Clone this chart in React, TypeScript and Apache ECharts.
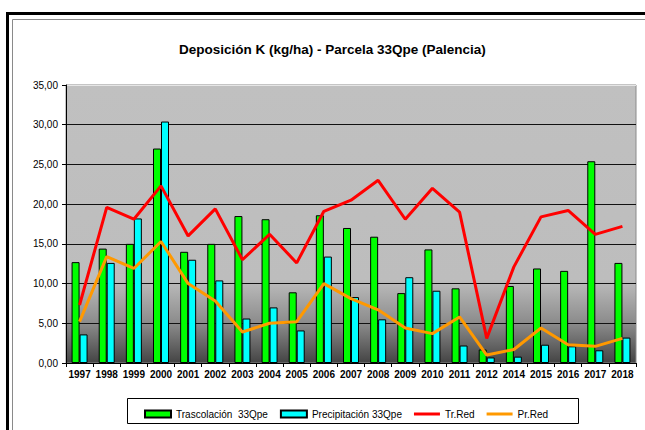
import React, { useEffect, useRef } from "react";
import * as echarts from "echarts";

const years = ["1997","1998","1999","2000","2001","2002","2003","2004","2005","2006","2007","2008","2009","2010","2011","2012","2014","2015","2016","2017","2018"];
const trascolacion = [12.7,14.4,15.0,27.0,14.0,15.0,18.5,18.1,8.9,18.6,17.0,15.9,8.8,14.3,9.4,1.7,9.7,11.9,11.6,25.4,12.6];
const precipitacion = [3.6,12.6,18.2,30.4,13.0,10.4,5.6,7.0,4.1,13.4,8.3,5.5,10.8,9.1,2.2,0.7,0.8,2.3,2.1,1.6,3.2];
const trRed = [7.3,19.6,18.1,22.3,16.0,19.4,13.0,16.2,12.6,19.1,20.5,23.0,18.1,22.0,19.0,3.1,12.1,18.4,19.2,16.2,17.2];
const prRed = [5.2,13.4,11.9,15.3,10.0,7.8,3.9,5.0,5.2,10.0,8.1,6.7,4.4,3.7,5.8,1.0,1.7,4.4,2.3,2.1,3.1];
const yTicks = [0, 5, 10, 15, 20, 25, 30, 35];

const FONT = "'Liberation Sans', Arial, sans-serif";
const LINE_ICON = "path://M0,0 L26,0 L26,3 L0,3 Z";

export default function App() {
  const ref = useRef<HTMLDivElement>(null);
  useEffect(() => {
    if (!ref.current) return;
    const chart = echarts.init(ref.current, null, { renderer: "svg" });
    chart.setOption({
      animation: false,
      backgroundColor: "#ffffff",
      textStyle: { fontFamily: FONT },
      title: {
        text: "Deposición K (kg/ha) - Parcela 33Qpe (Palencia)",
        left: 174,
        top: 37,
        textStyle: { fontFamily: FONT, fontSize: 13.5, fontWeight: "bold", color: "#000" },
      },
      graphic: [
        { type: "rect", shape: { x: 7.5, y: 13.5, width: 700, height: 500 }, style: { fill: "none", stroke: "#000", lineWidth: 3 }, z: 100 },
        { type: "rect", shape: { x: 12.5, y: 19.5, width: 700, height: 500 }, style: { fill: "none", stroke: "#8a8a8a", lineWidth: 1 }, z: 100 },
        { type: "rect", shape: { x: 127.5, y: 398.5, width: 451, height: 25 }, style: { fill: "none", stroke: "#000", lineWidth: 1 }, z: 100 },
      ],
      legend: {
        left: 139,
        top: 404,
        itemWidth: 26,
        itemHeight: 7,
        itemGap: 12,
        textStyle: { fontFamily: FONT, fontSize: 10, color: "#000" },
        data: [
          { name: "Trascolación  33Qpe", icon: "rect" },
          { name: "Precipitación 33Qpe", icon: "rect" },
          { name: "Tr.Red", icon: LINE_ICON, itemStyle: { color: "#ff0000", borderWidth: 0 } },
          { name: "Pr.Red", icon: LINE_ICON, itemStyle: { color: "#ff9900", borderWidth: 0 } },
        ],
      },
      grid: {
        left: 66,
        right: 9,
        top: 85,
        bottom: 67,
        show: true,
        borderColor: "#8a8a8a",
        borderWidth: 1,
        backgroundColor: new echarts.graphic.LinearGradient(0, 0, 0, 1, [
          { offset: 0, color: "#c0c0c0" },
          { offset: 0.7, color: "#bdbdbd" },
          { offset: 0.86, color: "#8a8a8a" },
          { offset: 1, color: "#444444" },
        ]),
      },
      xAxis: {
        type: "category",
        data: years,
        boundaryGap: true,
        axisLine: { lineStyle: { color: "#000", width: 1 } },
        axisTick: { show: true, length: 4, lineStyle: { color: "#000" } },
        axisLabel: { fontFamily: FONT, fontSize: 10, fontWeight: "bold", color: "#000", margin: 6, interval: 0 },
      },
      yAxis: {
        type: "value",
        min: yTicks[0],
        max: yTicks[yTicks.length - 1],
        interval: 5,
        axisLine: { show: true, lineStyle: { color: "#000", width: 1 } },
        axisTick: { show: true, length: 4, lineStyle: { color: "#000" } },
        axisLabel: {
          fontFamily: FONT,
          fontSize: 10,
          color: "#000",
          margin: 8,
          formatter: (v: number) => v.toFixed(2).replace(".", ","),
        },
        splitLine: {
          show: true,
          lineStyle: { color: ["#000", "#111", "#111", "#111", "#111", "#111", "#111", "#e6e6e6"], width: 1 },
        },
      },
      series: [
        {
          name: "Trascolación  33Qpe",
          type: "bar",
          data: trascolacion,
          barWidth: 8,
          barGap: "0%",
          itemStyle: { color: "#00ff00", borderColor: "#000", borderWidth: 1 },
        },
        {
          name: "Precipitación 33Qpe",
          type: "bar",
          data: precipitacion,
          barWidth: 8,
          barGap: "0%",
          itemStyle: { color: "#00ffff", borderColor: "#000", borderWidth: 1 },
        },
        {
          name: "Tr.Red",
          type: "line",
          data: trRed,
          symbol: "none",
          lineStyle: { color: "#ff0000", width: 3 },
          itemStyle: { color: "#ff0000" },
          z: 5,
        },
        {
          name: "Pr.Red",
          type: "line",
          data: prRed,
          symbol: "none",
          lineStyle: { color: "#ff9900", width: 3 },
          itemStyle: { color: "#ff9900" },
          z: 5,
        },
      ],
    });
    return () => chart.dispose();
  }, []);
  return <div ref={ref} style={{ position: "fixed", left: 0, top: 0, width: 645, height: 430 }} />;
}
